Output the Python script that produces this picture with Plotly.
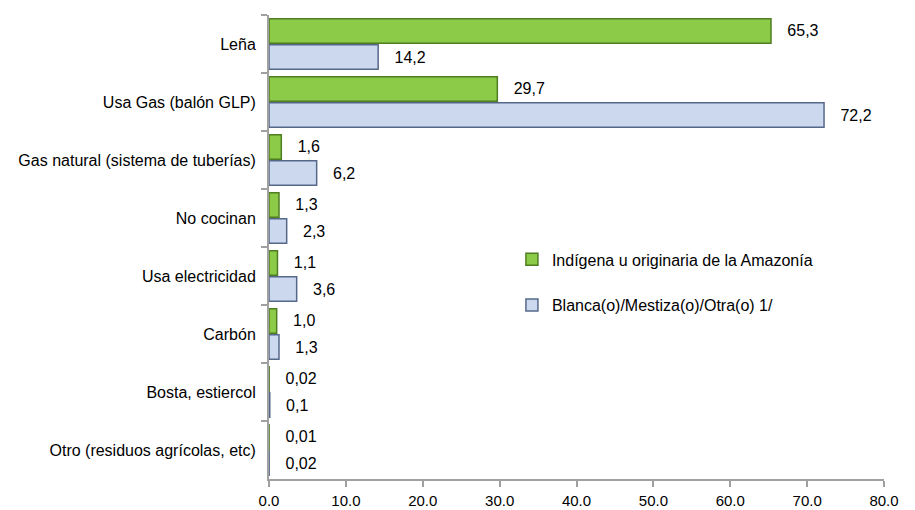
import plotly.graph_objects as go

FUENTES = [
    "Leña", "Usa Gas (balón GLP)", "Gas natural (sistema de tuberías)", "No cocinan",
    "Usa electricidad", "Carbón", "Bosta, estiercol", "Otro (residuos agrícolas, etc)",
]
INDIGENA = [65.3, 29.7, 1.6, 1.3, 1.1, 1.0, 0.02, 0.01]
INDIGENA_TXT = ["65,3", "29,7", "1,6", "1,3", "1,1", "1,0", "0,02", "0,01"]
BLANCA = [14.2, 72.2, 6.2, 2.3, 3.6, 1.3, 0.1, 0.02]
BLANCA_TXT = ["14,2", "72,2", "6,2", "2,3", "3,6", "1,3", "0,1", "0,02"]
X_TICKS = [0, 10, 20, 30, 40, 50, 60, 70, 80]

FUENTE = "Liberation Sans Narrow, Arial Narrow, Liberation Sans, Arial, sans-serif"

fig = go.Figure()
fig.add_bar(
    y=FUENTES, x=INDIGENA, orientation="h", name="Indígena u originaria de la Amazonía",
    legendgroup="a",
    marker=dict(color="#8ccb48", line=dict(color="#4f7d22", width=1.5)),
    text=["   " + t for t in INDIGENA_TXT], textposition="outside", cliponaxis=False,
    textfont=dict(size=16, color="#000000"),
)
fig.add_bar(
    y=FUENTES, x=BLANCA, orientation="h", name="Blanca(o)/Mestiza(o)/Otra(o) 1/",
    legendgroup="b",
    marker=dict(color="#cbd8ee", line=dict(color="#56688a", width=1.5)),
    text=["   " + t for t in BLANCA_TXT], textposition="outside", cliponaxis=False,
    textfont=dict(size=16, color="#000000"),
)

# la página añade ~8 px de margen: figura de 907x502
fig.update_layout(
    width=907, height=502,
    margin=dict(l=261, r=31, t=7, b=31, autoexpand=False),
    paper_bgcolor="white", plot_bgcolor="white",
    font=dict(family=FUENTE, size=16, color="#000000"),
    barmode="group", bargap=0.1, bargroupgap=0.06,
    legend=dict(x=0.395, y=0.51, xanchor="left", yanchor="top",
                traceorder="grouped", tracegroupgap=22,
                font=dict(size=16), bgcolor="rgba(0,0,0,0)"),
)
fig.update_xaxes(
    range=[0, 80], tickvals=X_TICKS, tickformat=".1f", automargin=False,
    ticklabelstandoff=1, tickfont=dict(size=15),
    showgrid=False, zeroline=False,
    showline=True, linecolor="#a0a0a0", linewidth=2,
    ticks="outside", ticklen=6, tickcolor="#a0a0a0", tickwidth=2,
)
fig.update_yaxes(
    autorange="reversed", tickson="boundaries", automargin=False,
    ticklabelstandoff=8,
    showgrid=False, zeroline=False,
    showline=True, linecolor="#a0a0a0", linewidth=2,
    ticks="outside", ticklen=6, tickcolor="#a0a0a0", tickwidth=2,
)

fig.write_html("out.html")
